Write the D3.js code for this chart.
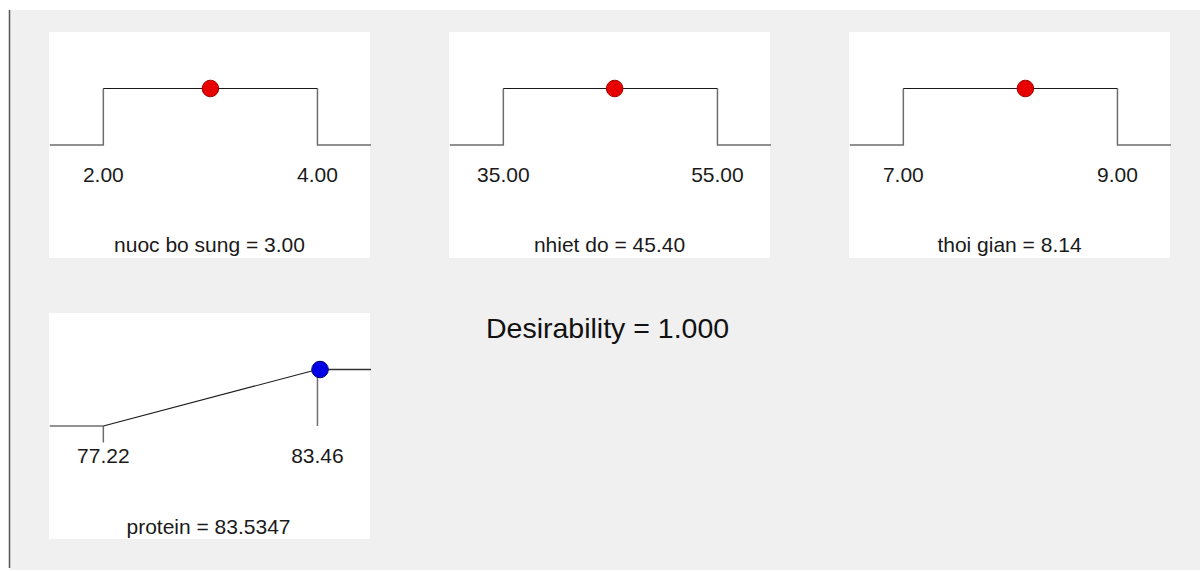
<!DOCTYPE html>
<html>
<head>
<meta charset="utf-8">
<script src="https://cdn.jsdelivr.net/npm/d3@7"></script>
<style>
  html, body { margin: 0; padding: 0; background: #ffffff; }
  svg { display: block; }
  text { font-family: "Liberation Sans", Arial, sans-serif; }
</style>
</head>
<body>
<svg id="chart" width="1200" height="572"></svg>
<script>
// ---- data ----
const factorNames = ["nuoc bo sung", "nhiet do", "thoi gian"];
const factorLows = [2.00, 35.00, 7.00];
const factorHighs = [4.00, 55.00, 9.00];
const factorValues = [3.00, 45.40, 8.14];
const factorLabelFmt = [".2f", ".2f", ".2f"];

const responseName = "protein";
const responseLow = 77.22;
const responseHigh = 83.46;
const responseValue = 83.5347;
const responseDesirability = 1.0;

const overallDesirability = 1.000;

// ---- layout ----
const svg = d3.select("#chart");
const W = 1200, H = 572;
const panelW = 321, panelH = 225;
const panelX = [49, 449, 849];
const topRowY = 32, bottomRowY = 313;

svg.append("rect").attr("x", 10).attr("y", 10).attr("width", W - 10).attr("height", 560).attr("fill", "#f0f0f0");
svg.append("line").attr("x1", 9.5).attr("x2", 9.5).attr("y1", 10).attr("y2", 568)
  .attr("stroke", "#555").attr("stroke-width", 1.5);

const lowColor = "#6e6e6e";
const topColor = "#1a1a1a";

function makeX(lo, hi) {
  const r = hi - lo;
  return d3.scaleLinear().domain([lo - 0.25 * r, hi + 0.25 * r]).range([0.8, panelW + 1]);
}
const y = d3.scaleLinear().domain([0, 1]).range([113, 56.5]);
const line = d3.line();

function panel(px, py) {
  const g = svg.append("g").attr("transform", `translate(${px},${py})`);
  g.append("rect").attr("width", panelW).attr("height", panelH + 1).attr("fill", "#ffffff");
  return g;
}

// ---- factor panels ----
factorNames.forEach((name, i) => {
  const g = panel(panelX[i], topRowY);
  const x = makeX(factorLows[i], factorHighs[i]);
  const lo = factorLows[i], hi = factorHighs[i];
  const [d0, d1] = x.domain();
  g.append("path").attr("d", line([[x(d0), y(0)], [x(lo), y(0)], [x(lo), y(1)]]))
    .attr("fill", "none").attr("stroke", lowColor).attr("stroke-width", 1.5);
  g.append("path").attr("d", line([[x(hi), y(1)], [x(hi), y(0)], [x(d1), y(0)]]))
    .attr("fill", "none").attr("stroke", lowColor).attr("stroke-width", 1.5);
  g.append("path").attr("d", line([[x(lo), y(1)], [x(hi), y(1)]]))
    .attr("fill", "none").attr("stroke", topColor).attr("stroke-width", 1.2);
  const fmt = d3.format(factorLabelFmt[i]);
  [lo, hi].forEach(v => {
    g.append("text").attr("x", x(v)).attr("y", 150).attr("text-anchor", "middle")
      .attr("font-size", 21).attr("fill", "#1a1a1a").text(fmt(v));
  });
  g.append("text").attr("x", panelW / 2).attr("y", 220).attr("text-anchor", "middle")
    .attr("font-size", 21).attr("fill", "#1a1a1a").text(`${name} = ${fmt(factorValues[i])}`);
  g.append("circle").attr("cx", x(factorValues[i])).attr("cy", y(1)).attr("r", 8.3)
    .attr("fill", "#e80000").attr("stroke", "#9a0000").attr("stroke-width", 1);
});

// ---- response panel ----
{
  const g = panel(panelX[0], bottomRowY);
  const x = makeX(responseLow, responseHigh);
  const [d0, d1] = x.domain();
  g.append("path").attr("d", line([[x(d0), y(0)], [x(responseLow), y(0)]]))
    .attr("fill", "none").attr("stroke", lowColor).attr("stroke-width", 1.5);
  g.append("path").attr("d", line([[x(responseLow), y(0)], [x(responseLow), y(0) + 16.5]]))
    .attr("fill", "none").attr("stroke", lowColor).attr("stroke-width", 1.5);
  g.append("path").attr("d", line([[x(responseLow), y(0)], [x(responseHigh), y(1)]]))
    .attr("fill", "none").attr("stroke", topColor).attr("stroke-width", 1.2);
  g.append("path").attr("d", line([[x(responseHigh), y(1)], [x(responseHigh), y(0)]]))
    .attr("fill", "none").attr("stroke", lowColor).attr("stroke-width", 1.5);
  g.append("path").attr("d", line([[x(responseHigh), y(1)], [x(d1), y(1)]]))
    .attr("fill", "none").attr("stroke", "#333").attr("stroke-width", 1.3);
  const fmt = d3.format(".2f");
  [responseLow, responseHigh].forEach(v => {
    g.append("text").attr("x", x(v)).attr("y", 150).attr("text-anchor", "middle")
      .attr("font-size", 21).attr("fill", "#1a1a1a").text(fmt(v));
  });
  g.append("text").attr("x", panelW / 2 - 1).attr("y", 221).attr("text-anchor", "middle")
    .attr("font-size", 21).attr("fill", "#1a1a1a").text(`${responseName} = ${d3.format(".4f")(responseValue)}`);
  g.append("circle").attr("cx", x(responseValue)).attr("cy", y(responseDesirability)).attr("r", 8.3)
    .attr("fill", "#0000e6").attr("stroke", "#00007a").attr("stroke-width", 1);
}

// ---- overall desirability ----
svg.append("text").attr("x", 486).attr("y", 338).attr("font-size", 28.5).attr("fill", "#111")
  .text(`Desirability = ${d3.format(".3f")(overallDesirability)}`);
</script>
</body>
</html>
